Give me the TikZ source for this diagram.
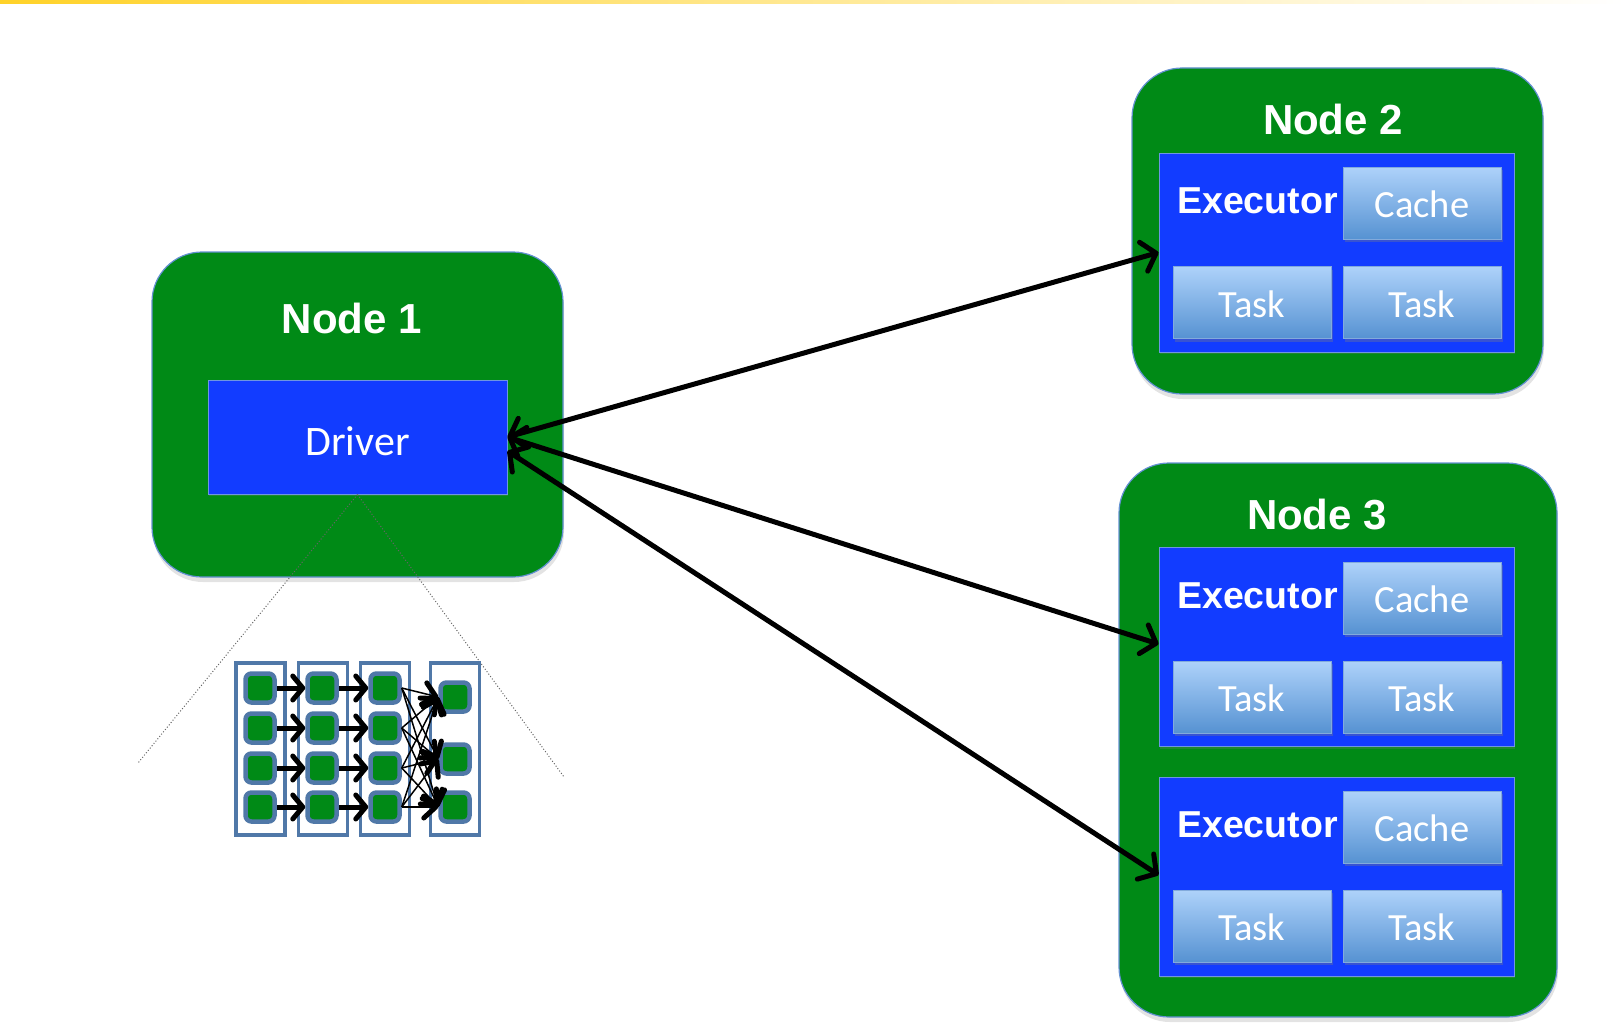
\documentclass[tikz,border=0pt]{standalone}
\usepackage{fontspec}
\setmainfont{Liberation Sans}
\newfontfamily\calibfont{Carlito}
\usetikzlibrary{arrows.meta,shadows}
\definecolor{ngreen}{RGB}{0,138,22}
\definecolor{nblue}{RGB}{18,60,255}
\definecolor{nborder}{RGB}{100,145,210}
\definecolor{eborder}{RGB}{110,150,225}
\definecolor{dagblue}{RGB}{80,120,168}
\definecolor{tasktop}{RGB}{174,210,250}
\definecolor{taskbot}{RGB}{86,146,210}
\definecolor{taskborder}{RGB}{130,170,220}
\definecolor{barY}{RGB}{255,210,40}
\tikzset{
  machine/.style={draw=nborder, line width=1.2pt, fill=ngreen, rounded corners=50pt,
    inner sep=0pt, drop shadow={shadow xshift=1pt, shadow yshift=-5pt, opacity=0.22}},
  mtitle/.style={text=white, inner sep=0pt, font=\bfseries\fontsize{42}{50}\selectfont},
  driverbox/.style={draw=eborder, line width=1pt, fill=nblue, inner sep=0pt, text=white,
    font=\calibfont\fontsize{42}{50}\selectfont, text height=36pt, text depth=0pt,
    drop shadow={shadow xshift=1pt, shadow yshift=-2pt, opacity=0.25}},
  execbox/.style={draw=eborder, line width=1pt, fill=nblue, inner sep=0pt,
    minimum width=355pt, minimum height=199pt,
    drop shadow={shadow xshift=1pt, shadow yshift=-2pt, opacity=0.25}},
  execlbl/.style={text=white, inner sep=0pt, anchor=base west,
    font=\bfseries\fontsize{37.5}{44}\selectfont},
  workbox/.style={draw=taskborder, line width=0.8pt, top color=tasktop, bottom color=taskbot,
    inner sep=0pt, minimum width=158pt, minimum height=72pt, text=white,
    font=\calibfont\fontsize{38.5}{45}\selectfont, text height=29pt, text depth=0pt,
    drop shadow={shadow xshift=2pt, shadow yshift=-3pt, opacity=0.35}},
  bigarrow/.style={line width=5pt, line cap=round,
    {Straight Barb[length=13pt,width=30pt,round]}-{Straight Barb[length=13pt,width=30pt,round]}},
  colbox/.style={draw=dagblue, line width=3.5pt, fill=white, inner sep=0pt,
    minimum width=49pt, minimum height=172pt},
  sq/.style={draw=dagblue, line width=4.5pt, fill=ngreen, rounded corners=6pt,
    inner sep=0pt, minimum size=29pt},
  dagarrow/.style={line width=5pt, -{Straight Barb[length=10pt,width=24pt,round]}},
  thinarrow/.style={line width=1.5pt, -{Straight Barb[length=12pt,width=22pt,line width=5pt,round]}},
  dotline/.style={draw=black!60, dotted, line width=1pt},
}
\begin{document}
\begin{tikzpicture}[x=1pt,y=-1pt]
\useasboundingbox (0,0) rectangle (1624,1030);
\shade[left color=barY, right color=white] (0,0) rectangle (1624,3.5);

% Node 1
\node[machine, minimum width=411pt, minimum height=325pt] (n1) at (357.5,414.5) {};
\node[mtitle] (t1) at (352,318) {Node 1};
\node[driverbox, minimum width=299pt, minimum height=114pt] (drv) at (357.5,437) {Driver};

% Node 2
\node[machine, minimum width=411pt, minimum height=326pt] (n2) at (1337.5,231) {};
\node[mtitle] (t2) at (1333,119) {Node 2};
\node[execbox] (ex2) at (1336.5,252.5) {};
\node[execlbl] (el2) at (1177,213) {Executor};
\node[workbox] (ca2) at (1422,203) {Cache};
\node[workbox] (ta2a) at (1252,302.5) {Task};
\node[workbox] (ta2b) at (1422,302.5) {Task};

% Node 3
\node[machine, minimum width=438pt, minimum height=554pt] (n3) at (1338,740) {};
\node[mtitle] (t3) at (1317,515) {Node 3};
\node[execbox] (ex3a) at (1336.5,647) {};
\node[execlbl] (el3a) at (1177,608) {Executor};
\node[workbox] (ca3a) at (1422,598) {Cache};
\node[workbox] (ta3a) at (1252,697) {Task};
\node[workbox] (ta3b) at (1422,697) {Task};
\node[execbox] (ex3b) at (1336.5,876.5) {};
\node[execlbl] (el3b) at (1177,837) {Executor};
\node[workbox] (ca3b) at (1422,827) {Cache};
\node[workbox] (ta3c) at (1252,926) {Task};
\node[workbox] (ta3d) at (1422,926) {Task};

% connections
\draw[bigarrow] (drv.east) -- (ex2.west);
\draw[bigarrow] (drv.east) -- ([yshift=3pt]ex3a.west);
\draw[bigarrow] ([yshift=-14pt]drv.east) -- ([yshift=1.5pt]ex3b.west);

% dotted zoom lines
\coordinate (dl) at (138,763);
\coordinate (dr) at (564,777);
\draw[dotline] (drv.south) -- (dl);
\draw[dotline] (drv.south) -- (dr);

% DAG
\node[colbox] (col1) at (260.5,749) {};
\node[colbox] (col2) at (323,749) {};
\node[colbox] (col3) at (385,749) {};
\node[colbox] (col4) at (455,749) {};
\foreach \r/\y in {1/688,2/728,3/768,4/807}{
  \node[sq] (a\r) at (260,\y) {};
  \node[sq] (b\r) at (322,\y) {};
  \node[sq] (c\r) at (385,\y) {};
}
\foreach \r/\y in {1/697,2/759,3/807}{
  \node[sq] (d\r) at (455,\y) {};
}
\foreach \r in {1,...,4}{
  \draw[dagarrow] (a\r.east) -- (b\r.west);
  \draw[dagarrow] (b\r.east) -- (c\r.west);
}
\foreach \r in {1,...,4}{
  \foreach \s in {1,2,3}{
    \draw[thinarrow] (c\r.east) -- (d\s.west);
  }
}
\end{tikzpicture}
\end{document}
